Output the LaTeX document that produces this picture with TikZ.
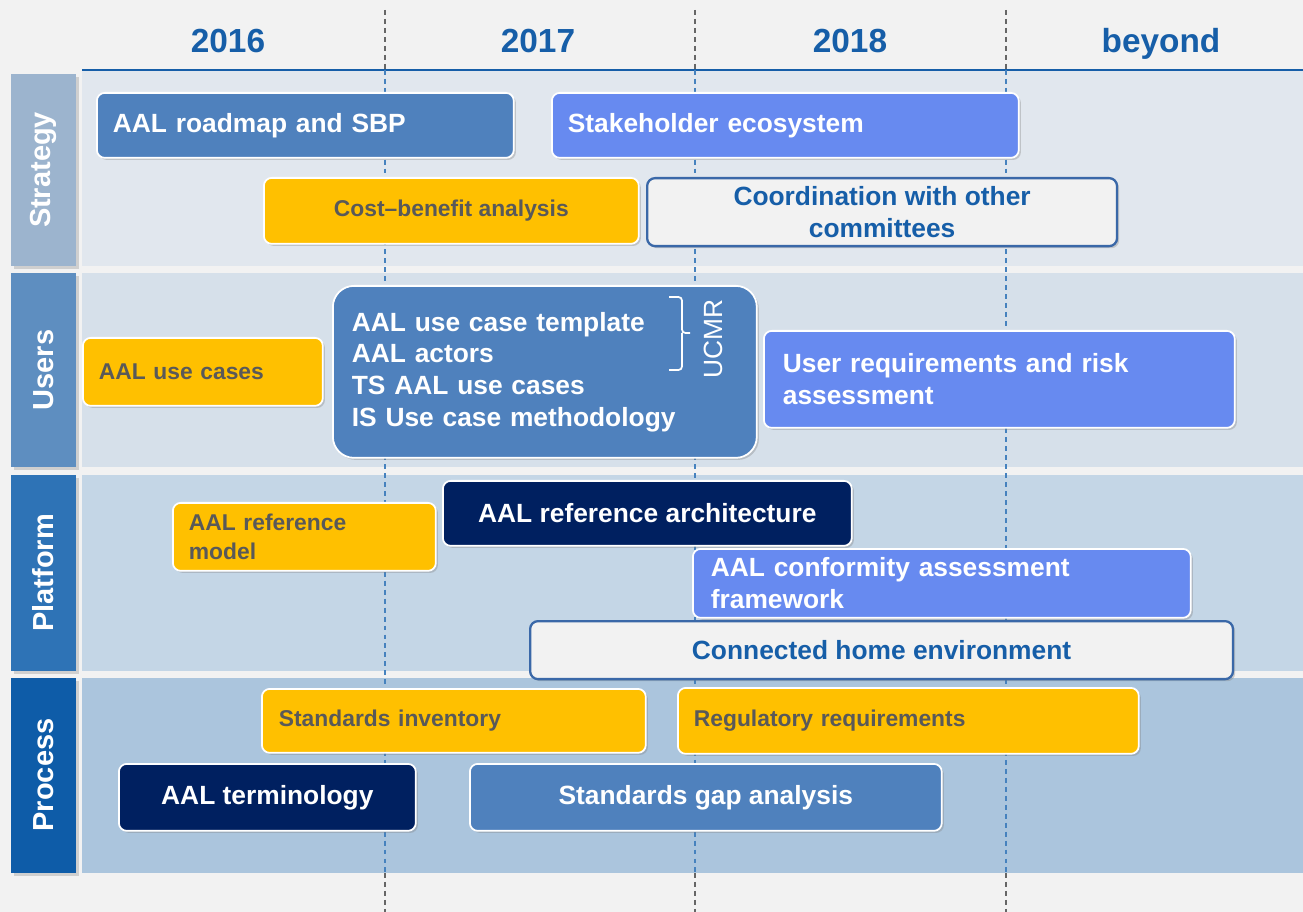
\documentclass[tikz,border=0pt]{standalone}
\usepackage{fontspec}
\setmainfont{Liberation Sans}
\usetikzlibrary{shadows}

\definecolor{pagebg}{RGB}{242,242,242}
\definecolor{headblue}{RGB}{22,94,168}
\definecolor{midblue}{RGB}{79,129,189}
\definecolor{periblue}{RGB}{103,138,240}
\definecolor{navyblue}{RGB}{0,32,96}
\definecolor{amber}{RGB}{255,192,0}
\definecolor{amtext}{RGB}{89,89,89}
\definecolor{frameblue}{RGB}{58,104,168}
\definecolor{laneA}{RGB}{225,231,238}
\definecolor{laneB}{RGB}{214,224,234}
\definecolor{laneC}{RGB}{196,214,230}
\definecolor{laneD}{RGB}{171,197,221}
\definecolor{tabA}{RGB}{156,180,206}
\definecolor{tabB}{RGB}{94,142,192}
\definecolor{tabC}{RGB}{46,115,182}
\definecolor{tabD}{RGB}{14,92,168}
\definecolor{gridblue}{RGB}{70,130,190}

\tikzset{
  bar/.style={rounded corners=4.5pt, draw=white, line width=1pt, inner ysep=0pt,
    drop shadow={shadow xshift=1.2pt, shadow yshift=-1.2pt, opacity=0.35},
    text=white, font=\bfseries\fontsize{15}{18}\selectfont},
  barL/.style={bar, anchor=north west, align=left},
  barC/.style={bar, anchor=north west, align=center, inner xsep=0pt},
  yellowbar/.style={fill=amber, text=amtext, font=\bfseries\fontsize{13}{16}\selectfont},
  openbar/.style={fill=pagebg, draw=frameblue, line width=1.3pt, text=headblue},
  year/.style={anchor=base, text=headblue, font=\bfseries\fontsize{19}{23}\selectfont},
  tab/.style={drop shadow={shadow xshift=1.5pt, shadow yshift=-1.5pt, opacity=0.3}},
  tablabel/.style={rotate=90, text=white, font=\bfseries\fontsize{16.5}{20}\selectfont},
  griddash/.style={line width=1.1pt, dash pattern=on 2.8pt off 2.3pt}
}

\begin{document}
\begin{tikzpicture}[x=0.02cm, y=-0.02cm]
  \useasboundingbox (0,0) rectangle (1303,912);
  \fill[pagebg] (0,0) rectangle (1303,912);

  % swim lanes
  \fill[laneA] (82,71) rectangle (1303,266);
  \fill[laneB] (82,273) rectangle (1303,467);
  \fill[laneC] (82,475) rectangle (1303,671);
  \fill[laneD] (82,678) rectangle (1303,873);
  \draw[headblue, line width=1pt] (82,70) -- (1303,70);

  % lane tabs
  \fill[tabA, tab] (11,74) rectangle (76,266);
  \fill[tabB, tab] (11,273) rectangle (76,467);
  \fill[tabC, tab] (11,475) rectangle (76,671);
  \fill[tabD, tab] (11,678) rectangle (76,873);
  \node[tablabel] (strategy) at (43.5,170) {Strategy};
  \node[tablabel] (users) at (43.5,370) {Users};
  \node[tablabel] (platform) at (43.5,573) {Platform};
  \node[tablabel] (process) at (43.5,775) {Process};

  % year columns
  \foreach \x in {385,695,1006} {
    \draw[griddash, black!60] (\x,10) -- (\x,70);
    \draw[griddash, gridblue] (\x,70) -- (\x,873);
    \draw[griddash, black!60] (\x,873) -- (\x,912);
  }
  \node[year] (y2016) at (228,53) {2016};
  \node[year] (y2017) at (538,53) {2017};
  \node[year] (y2018) at (850,53) {2018};
  \node[year] (beyond) at (1161,53) {beyond};

  % Strategy
  \node[barL, fill=midblue, inner xsep=0.32cm, text width=7.70cm, minimum height=1.30cm] (roadmap) at (96,92) {AAL roadmap and SBP};
  \node[barL, fill=periblue, inner xsep=0.32cm, text width=8.70cm, minimum height=1.30cm] (ecosystem) at (551,92) {Stakeholder ecosystem};
  \node[barC, yellowbar, minimum width=7.50cm, minimum height=1.32cm] (costbenefit) at (263,177) {Cost--benefit analysis};
  \node[barC, openbar, minimum width=9.40cm, minimum height=1.36cm] (coordination) at (646,177) {Coordination with other\\committees};

  % Users
  \node[barL, yellowbar, inner xsep=0.32cm, text width=4.16cm, minimum height=1.36cm] (usecases) at (82,337) {AAL use cases};
  \node[barL, fill=midblue, rounded corners=12pt, inner xsep=0.38cm, text width=7.72cm, minimum height=3.44cm] (ucbox) at (332,285)
    {AAL use case template\\AAL actors\\TS AAL use cases\\IS Use case methodology};
  \draw[white, line width=1pt, rounded corners=2pt] (669,297) -| (682,333) -- (690,333) (682,333) |- (669,370);
  \node[rotate=90, text=white, font=\fontsize{15}{18}\selectfont] (ucmr) at (713,339) {UCMR};
  \node[barL, fill=periblue, inner xsep=0.38cm, text width=8.66cm, minimum height=1.94cm] (userreq) at (763,330) {User requirements and risk\\assessment};

  % Platform
  \node[barL, yellowbar, inner xsep=0.32cm, text width=4.62cm, minimum height=1.36cm] (refmodel) at (172,502) {AAL reference\\model};
  \node[barC, fill=navyblue, minimum width=8.18cm, minimum height=1.30cm] (refarch) at (442,480) {AAL reference architecture};
  \node[barL, fill=periblue, inner xsep=0.36cm, text width=9.24cm, minimum height=1.38cm] (conformity) at (692,548) {AAL conformity assessment\\framework};
  \node[barC, openbar, minimum width=14.06cm, minimum height=1.16cm] (home) at (529,620) {Connected home environment};

  % Process
  \node[barL, yellowbar, inner xsep=0.34cm, text width=7.00cm, minimum height=1.28cm] (inventory) at (261,688) {Standards inventory};
  \node[barL, yellowbar, inner xsep=0.32cm, text width=8.58cm, minimum height=1.32cm] (regulatory) at (677,687) {Regulatory requirements};
  \node[barC, fill=navyblue, minimum width=5.94cm, minimum height=1.34cm] (terminology) at (118,763) {AAL terminology};
  \node[barC, fill=midblue, minimum width=9.44cm, minimum height=1.34cm] (gapanalysis) at (469,763) {Standards gap analysis};
\end{tikzpicture}
\end{document}
